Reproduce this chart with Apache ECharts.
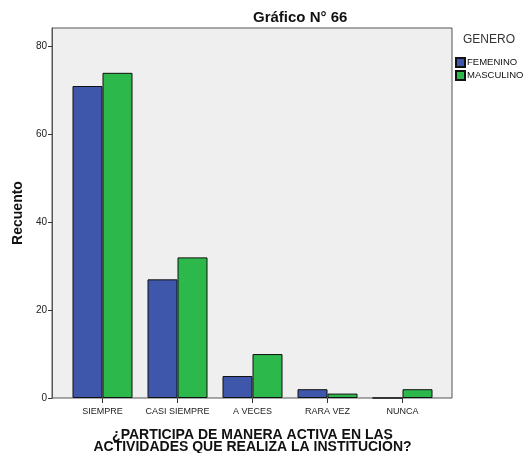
<!DOCTYPE html>
<html>
<head>
<meta charset="utf-8">
<script src="https://cdn.jsdelivr.net/npm/echarts@6/dist/echarts.min.js"></script>
<style>
  html, body { margin: 0; padding: 0; background: #ffffff; }
  #chart { width: 523px; height: 453px; }
</style>
</head>
<body>
<div id="chart"></div>
<script>
// Answer categories and counts by gender
const categories = ['SIEMPRE', 'CASI SIEMPRE', 'A VECES', 'RARA VEZ', 'NUNCA'];
const femenino = [71, 27, 5, 2, 0];
const masculino = [74, 32, 10, 1, 2];
const yTicks = [0, 20, 40, 60, 80];
const seriesNames = ['FEMENINO', 'MASCULINO'];

const FONT = '"Liberation Sans", Arial, sans-serif';
const Y_MAX = 84.2;

const chart = echarts.init(document.getElementById('chart'), null, { renderer: 'canvas' });

chart.setOption({
  animation: false,
  backgroundColor: '#ffffff',
  title: [
    {
      text: 'Gráfico N° 66',
      left: 253, top: 10, padding: 0,
      textStyle: { fontFamily: FONT, fontSize: 15, fontWeight: 'bold', color: '#111' }
    },
    {
      text: 'GENERO',
      left: 463, top: 34, padding: 0,
      textStyle: { fontFamily: FONT, fontSize: 12, fontWeight: 'normal', color: '#333' }
    }
  ],
  legend: {
    orient: 'vertical',
    left: 455, top: 57, padding: 0,
    itemWidth: 9, itemHeight: 9, itemGap: 2,
    icon: 'rect',
    textStyle: { fontFamily: FONT, fontSize: 9.5, color: '#111', padding: [0, 0, 0, -3] },
    data: seriesNames
  },
  grid: [
    // framed plot area
    { left: 52, right: 71, top: 28, bottom: 55, show: true, outerBoundsMode: 'none',
      backgroundColor: '#efefef', borderColor: '#555', borderWidth: 1 },
    // bar layout area
    { left: 65, right: 83, top: 28, bottom: 55, outerBoundsMode: 'none' }
  ],
  xAxis: [
    { type: 'value', gridIndex: 0, show: false, min: 0, max: 1 },
    {
      type: 'category', gridIndex: 1, data: categories,
      axisLine: { show: false },
      axisTick: { show: true, alignWithLabel: true, length: 5, lineStyle: { color: '#333' } },
      axisLabel: { fontFamily: FONT, fontSize: 9, color: '#222', margin: 9, interval: 0 },
      name: '¿PARTICIPA DE MANERA ACTIVA EN LAS\nACTIVIDADES QUE REALIZA LA INSTITUCIÓN?',
      nameLocation: 'middle', nameGap: 31,
      nameTextStyle: { fontFamily: FONT, fontSize: 14, fontWeight: 'bold', color: '#111', lineHeight: 12 }
    }
  ],
  yAxis: [
    {
      type: 'value', gridIndex: 0, min: 0, max: Y_MAX,
      axisLine: { show: true, lineStyle: { color: '#555' } },
      axisTick: { show: true, length: 4, customValues: yTicks, lineStyle: { color: '#333' } },
      axisLabel: { fontFamily: FONT, fontSize: 10, color: '#222', margin: 5, customValues: yTicks },
      splitLine: { show: false },
      name: 'Recuento', nameLocation: 'middle', nameGap: 27,
      nameTextStyle: { fontFamily: FONT, fontSize: 14, fontWeight: 'bold', color: '#111' }
    },
    { type: 'value', gridIndex: 1, min: 0, max: Y_MAX, show: false }
  ],
  series: [
    {
      name: seriesNames[0], type: 'bar', xAxisIndex: 1, yAxisIndex: 1,
      data: femenino, barWidth: 30, barGap: '0%',
      itemStyle: { color: '#3e57ab', borderColor: '#111', borderWidth: 1 }
    },
    {
      name: seriesNames[1], type: 'bar', xAxisIndex: 1, yAxisIndex: 1,
      data: masculino, barWidth: 30, barGap: '0%',
      itemStyle: { color: '#2db84b', borderColor: '#111', borderWidth: 1 }
    }
  ]
});
</script>
</body>
</html>
